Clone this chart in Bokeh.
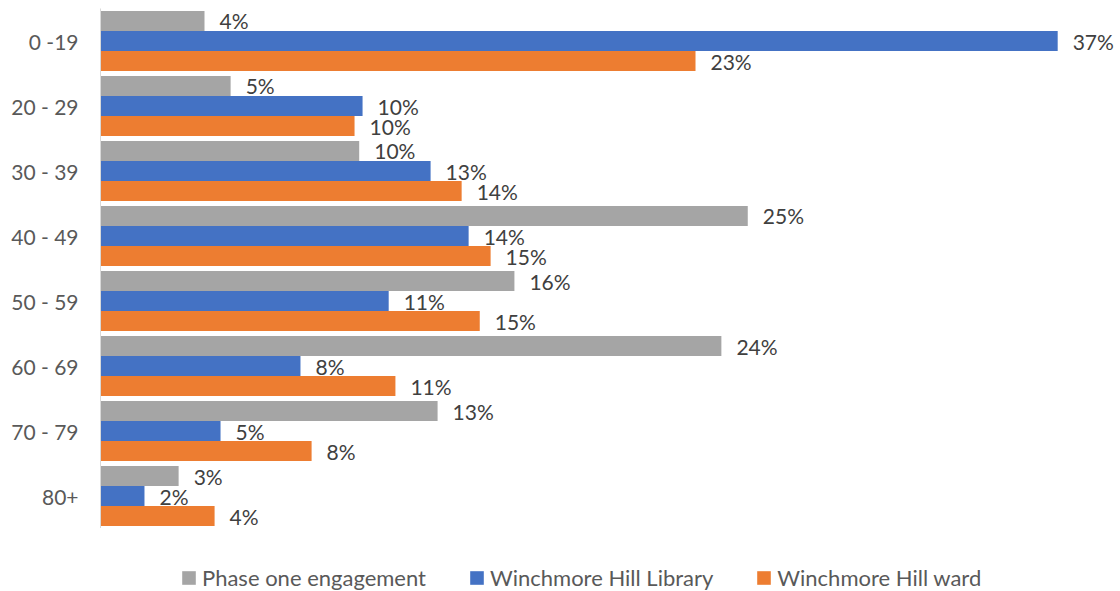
from bokeh.plotting import figure
from bokeh.layouts import column
from bokeh.models import ColumnDataSource, FactorRange, Range1d, Legend, LegendItem
from bokeh.transform import dodge
from bokeh.core.properties import value
from bokeh.embed import file_html
from bokeh.resources import INLINE

categories = ["0 -19", "20 - 29", "30 - 39", "40 - 49", "50 - 59", "60 - 69", "70 - 79", "80+"]
phase_one = [4.02, 5.03, 10.0, 25.02, 16.0, 24.0, 13.03, 3.02]
library = [37.0, 10.13, 12.76, 14.23, 11.14, 7.73, 4.64, 1.70]
ward = [23.0, 9.82, 13.96, 15.08, 14.66, 11.4, 8.16, 4.41]
series_names = ["Phase one engagement", "Winchmore Hill Library", "Winchmore Hill ward"]
colors = ["#A5A5A5", "#4472C4", "#ED7D31"]

FONT = "Lato"
LABEL_COLOR = "#404040"

src = ColumnDataSource(dict(
    cat=categories,
    phase=phase_one, lib=library, ward=ward,
    phase_lbl=[f"{v:.0f}%" for v in phase_one],
    lib_lbl=[f"{v:.0f}%" for v in library],
    ward_lbl=[f"{v:.0f}%" for v in ward],
))

p = figure(
    y_range=FactorRange(factors=list(reversed(categories)), range_padding=0),
    x_range=Range1d(0, 1020 / 25.87),
    frame_width=1020, frame_height=520,
    min_border_left=100, min_border_right=0, min_border_top=8, min_border_bottom=0,
    output_backend="svg", toolbar_location=None,
)
p.outline_line_color = None
p.xgrid.visible = False
p.ygrid.visible = False
p.xaxis.visible = False

ya = p.yaxis[0]
ya.axis_line_color = "#D9D9D9"
ya.axis_line_width = 1
ya.major_tick_line_color = None
ya.minor_tick_line_color = None
ya.major_tick_in = 0
ya.major_tick_out = 0
ya.major_label_standoff = 22
ya.major_label_text_font = FONT
ya.major_label_text_font_size = "21px"
ya.major_label_text_color = "#595959"

bh = 20 / 65
offsets = [bh, 0.0, -bh]
fields = ["phase", "lib", "ward"]
for f, off, c in zip(fields, offsets, colors):
    p.hbar(y=dodge("cat", off, range=p.y_range), right=f, left=0, height=bh,
           source=src, fill_color=c, line_color=None)
    p.text(x=f, y=dodge("cat", off, range=p.y_range), text=f + "_lbl", source=src,
           x_offset=15, text_baseline="middle", text_align="left",
           text_font=value(FONT), text_font_size="21px", text_color=LABEL_COLOR)

# legend strip below the chart (its frame is aligned with the chart's frame)
pl = figure(
    width=1120, height=63, x_range=Range1d(0, 1), y_range=Range1d(0, 1),
    min_border_left=0, min_border_right=0, min_border_top=0, min_border_bottom=0,
    output_backend="svg", toolbar_location=None,
)
pl.axis.visible = False
pl.grid.visible = False
pl.outline_line_color = None
leg_renderers = []
for f, c in zip(fields, colors):
    r = pl.hbar(y=0, left=0, right=f, height=0.5, source=src,
                fill_color=c, line_color=None, visible=False)
    leg_renderers.append(r)
legend = Legend(
    items=[LegendItem(label=n, renderers=[r]) for n, r in zip(series_names, leg_renderers)],
    orientation="horizontal", location=(80, 0),
    glyph_width=17, glyph_height=17, label_standoff=5, spacing=42,
    padding=0, margin=0, border_line_color=None, background_fill_alpha=0,
    inactive_fill_alpha=0,
    label_text_font=FONT, label_text_font_size="22px", label_text_color="#595959",
    label_height=20,
)
pl.add_layout(legend, "center")

open("out.html", "w").write(file_html(column(p, pl, spacing=0), INLINE))
